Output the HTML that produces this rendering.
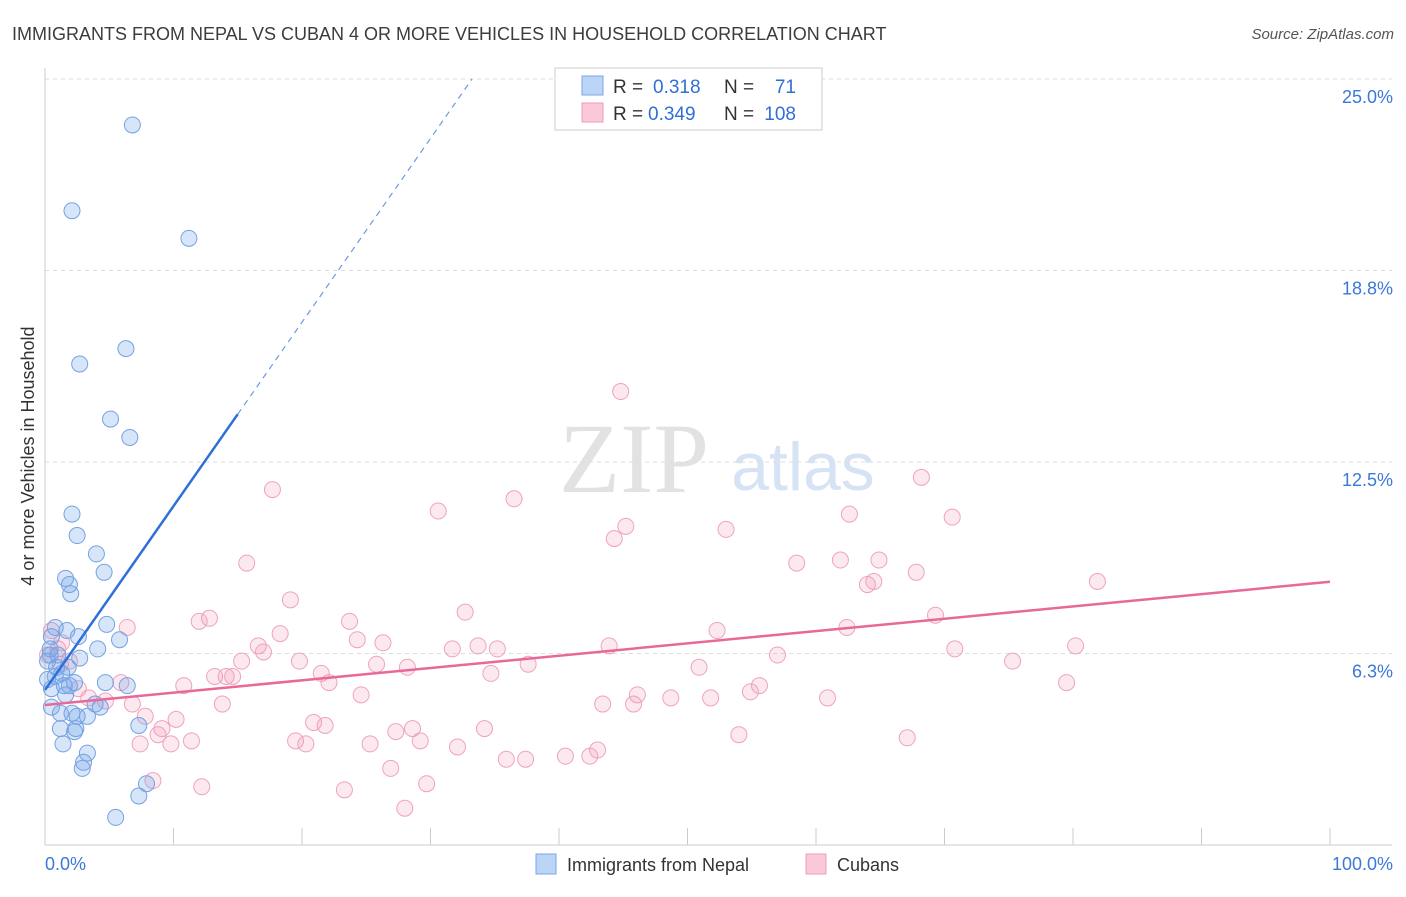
<!DOCTYPE html>
<html><head><meta charset="utf-8"><style>
body{margin:0;background:#fff;font-family:"Liberation Sans",sans-serif;}
</style></head><body>
<svg id="chart" width="1406" height="892" viewBox="0 0 1406 892" xmlns="http://www.w3.org/2000/svg" font-family="Liberation Sans, sans-serif">
<text x="12" y="40" font-size="18" fill="#3c3c3c">IMMIGRANTS FROM NEPAL VS CUBAN 4 OR MORE VEHICLES IN HOUSEHOLD CORRELATION CHART</text>
<text x="1394" y="39" font-size="15" fill="#555" text-anchor="end" font-style="italic">Source: ZipAtlas.com</text>
<text transform="translate(34,456) rotate(-90)" font-size="18" fill="#333" text-anchor="middle">4 or more Vehicles in Household</text>
<g>
<text x="634" y="492" font-size="100" fill="#e2e2e2" text-anchor="middle" style="font-family:'Liberation Serif',serif">ZIP</text>
<text x="803" y="490" font-size="68" fill="#d6e3f5" text-anchor="middle">atlas</text>
</g>
<g id="grid"></g><g id="axes"></g><g id="marks"></g>
<g>
<rect x="555" y="68" width="267" height="62" fill="#fff" stroke="#ccc"/>
<rect x="582" y="76" width="21" height="19" fill="#bcd5f7" stroke="#7aa6e6"/>
<rect x="582" y="103" width="21" height="19" fill="#fac8d8" stroke="#ec9bb6"/>
<text x="613" y="93" font-size="19" fill="#333">R =</text>
<text x="653" y="93" font-size="19" fill="#2f6fd6">0.318</text>
<text x="724" y="93" font-size="19" fill="#333">N =</text>
<text x="796" y="93" font-size="19" fill="#2f6fd6" text-anchor="end">71</text>
<text x="613" y="120" font-size="19" fill="#333">R =</text>
<text x="648" y="120" font-size="19" fill="#2f6fd6">0.349</text>
<text x="724" y="120" font-size="19" fill="#333">N =</text>
<text x="796" y="120" font-size="19" fill="#2f6fd6" text-anchor="end">108</text>
</g>
<g>
<rect x="536" y="854" width="20" height="20" fill="#bcd5f7" stroke="#7aa6e6"/>
<text x="567" y="871" font-size="18" fill="#333">Immigrants from Nepal</text>
<rect x="806" y="854" width="20" height="20" fill="#fac8d8" stroke="#ec9bb6"/>
<text x="837" y="871" font-size="18" fill="#333">Cubans</text>
</g>
</svg>
<script>
const yTicks=[6.25,12.5,18.75,25];
const yTickLabels=["6.3%","12.5%","18.8%","25.0%"];
const xTickLabels=["0.0%","100.0%"];
const nepalX=[6.8,2.1,11.2,6.3,2.7,5.1,6.6,2.1,2.5,4.0,4.6,1.6,1.9,2.0,4.8,0.8,1.7,2.6,5.8,0.5,4.1,0.4,1.0,2.7,0.2,0.9,1.8,1.3,0.8,1.5,1.9,2.3,4.7,6.4,0.5,1.6,0.5,4.3,3.9,1.2,2.1,2.5,3.3,1.2,2.4,2.3,7.3,1.4,3.3,3.0,2.9,7.9,7.3,5.5,0.2,0.4];
const nepalY=[23.5,20.7,19.8,16.2,15.7,13.9,13.3,10.8,10.1,9.5,8.9,8.7,8.5,8.2,7.2,7.1,7.0,6.8,6.7,6.8,6.4,6.4,6.2,6.1,6.0,5.8,5.8,5.6,5.5,5.2,5.2,5.3,5.3,5.2,5.1,4.9,4.5,4.5,4.6,4.3,4.3,4.2,4.2,3.8,3.8,3.7,3.9,3.3,3.0,2.7,2.5,2.0,1.6,0.9,5.4,6.2];
const cubanX=[44.8,17.7,68.2,36.5,30.6,62.6,70.6,45.2,53.0,44.3,15.7,61.9,64.9,58.5,67.8,64.0,64.5,81.9,19.1,32.7,12.8,12.0,23.7,69.3,62.4,52.3,6.4,18.3,24.3,26.3,43.9,31.7,33.7,35.2,16.6,17.0,15.3,19.8,70.8,80.2,57.0,75.3,25.8,28.2,37.6,50.9,21.5,34.7,13.2,14.1,14.6,22.1,10.8,79.5,55.6,5.9,46.1,48.7,54.9,51.8,24.6,60.9,43.4,45.8,13.8,4.7,6.8,3.4,2.6,7.8,10.2,9.1,8.8,7.4,9.8,11.4,20.9,21.8,19.5,20.3,27.3,28.6,29.2,34.2,25.3,32.1,54.0,67.1,43.0,42.4,40.5,35.9,37.4,26.9,8.4,12.2,23.3,29.7,28.0,0.5,1.0,1.3,0.2,1.9,1.2];
const cubanY=[14.8,11.6,12.0,11.3,10.9,10.8,10.7,10.4,10.3,10.0,9.2,9.3,9.3,9.2,8.9,8.5,8.6,8.6,8.0,7.6,7.4,7.3,7.3,7.5,7.1,7.0,7.1,6.9,6.7,6.6,6.5,6.4,6.5,6.4,6.5,6.3,6.0,6.0,6.4,6.5,6.2,6.0,5.9,5.8,5.9,5.8,5.6,5.6,5.5,5.5,5.5,5.3,5.2,5.3,5.2,5.3,4.9,4.8,5.0,4.8,4.9,4.8,4.6,4.6,4.6,4.7,4.6,4.8,5.1,4.2,4.1,3.8,3.6,3.3,3.3,3.4,4.0,3.9,3.4,3.3,3.7,3.8,3.4,3.8,3.3,3.2,3.6,3.5,3.1,2.9,2.9,2.8,2.8,2.5,2.1,1.9,1.8,2.0,1.2,7.0,6.4,6.6,6.2,6.0,5.9];
const nepalTrend=[5.06,0.6];
const cubanTrend=[4.57,0.0402];
const NS="http://www.w3.org/2000/svg";
const xs=v=>45+v*12.85, ys=v=>845-v*30.64;
function mk(tag,attrs,parent){const e=document.createElementNS(NS,tag);for(const k in attrs)e.setAttribute(k,attrs[k]);document.getElementById(parent).appendChild(e);return e;}
yTicks.forEach((t,i)=>{
 const g=mk('line',{x1:45,x2:1392,y1:ys(t),y2:ys(t),stroke:'#ddd','stroke-dasharray':'4,4'},'grid');
 
 
 const l=mk('text',{x:1393,y:ys(t)+24,'font-size':18,fill:'#3b78d8','text-anchor':'end'},'axes');l.textContent=yTickLabels[i];
 
 
});
mk('line',{x1:45,x2:45,y1:68,y2:845,stroke:'#ccc'},'axes');
mk('line',{x1:45,x2:1392,y1:845,y2:845,stroke:'#ccc'},'axes');
for(let i=0;i<=10;i++){const t=mk('line',{x1:xs(i*10),x2:xs(i*10),y1:828,y2:845,stroke:'#ccc'},'axes');
 
 }
const xl0=mk('text',{x:45,y:870,'font-size':18,fill:'#3b78d8'},'axes');xl0.textContent=xTickLabels[0];


const xl1=mk('text',{x:1393,y:870,'font-size':18,fill:'#3b78d8','text-anchor':'end'},'axes');xl1.textContent=xTickLabels[1];


cubanX.forEach((x,i)=>{const c=mk('circle',{cx:xs(x),cy:ys(cubanY[i]),r:8,fill:'rgba(242,150,180,0.22)',stroke:'#eea3bd','stroke-width':1},'marks');
 
 });
nepalX.forEach((x,i)=>{const c=mk('circle',{cx:xs(x),cy:ys(nepalY[i]),r:8,fill:'rgba(110,160,235,0.28)',stroke:'#74a2e2','stroke-width':1},'marks');
 
 });
const pl=mk('line',{x1:xs(0),y1:ys(cubanTrend[0]),x2:xs(100),y2:ys(cubanTrend[0]+100*cubanTrend[1]),stroke:'#e8689a','stroke-width':2.5},'marks');


const bl=mk('line',{x1:xs(0),y1:ys(nepalTrend[0]),x2:xs(15),y2:ys(nepalTrend[0]+15*nepalTrend[1]),stroke:'#2e6fd8','stroke-width':2.5},'marks');


const xe=(25-nepalTrend[0])/nepalTrend[1];
const bd=mk('line',{x1:xs(15),y1:ys(nepalTrend[0]+15*nepalTrend[1]),x2:xs(xe),y2:ys(25),stroke:'#6a9be0','stroke-width':1.2,'stroke-dasharray':'6,5'},'marks');


</script>
</body></html>
